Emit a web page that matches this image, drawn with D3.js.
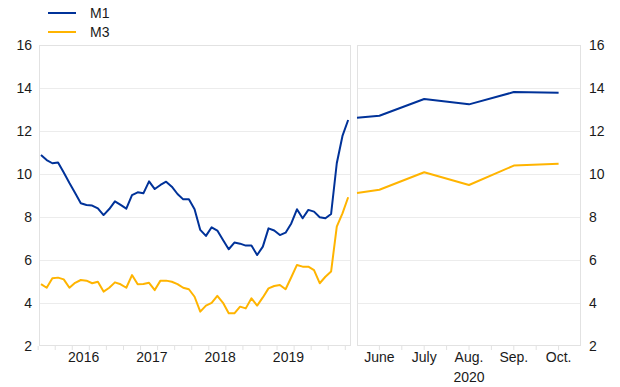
<!DOCTYPE html>
<html>
<head>
<meta charset="utf-8">
<script src="https://cdn.jsdelivr.net/npm/d3@7"></script>
<style>
    body { margin: 0; background: #fff; }
    text { font-family: "Liberation Sans", Arial, sans-serif; fill: #1a1a1a; }
</style>
</head>
<body>
<svg id="chart" width="620" height="387"></svg>
<script>

// monthly, Nov 2015 .. May 2020 (index 0 = Nov 2015)
const m1Monthly = [10.88, 10.65, 10.5, 10.53, 10.07, 9.58, 9.12, 8.64, 8.56, 8.53,
    8.4, 8.09, 8.37, 8.73, 8.56, 8.39, 9.02, 9.15, 9.1, 9.66,
    9.3, 9.49, 9.64, 9.41, 9.07, 8.82, 8.82, 8.36, 7.4, 7.12,
    7.52, 7.37, 6.93, 6.5, 6.81, 6.76, 6.67, 6.67, 6.23, 6.62,
    7.47, 7.37, 7.16, 7.27, 7.7, 8.36, 7.94, 8.33, 8.25, 7.99,
    7.94, 8.14, 10.5, 11.77, 12.51];
const m3Monthly = [4.88, 4.71, 5.15, 5.18, 5.1, 4.71, 4.94, 5.07, 5.04, 4.92,
    4.99, 4.53, 4.71, 4.96, 4.87, 4.71, 5.3, 4.87, 4.88, 4.94,
    4.6, 5.04, 5.04, 4.99, 4.88, 4.71, 4.64, 4.29, 3.6, 3.88,
    4.01, 4.33, 4.01, 3.52, 3.52, 3.83, 3.75, 4.22, 3.88, 4.26,
    4.68, 4.79, 4.84, 4.64, 5.2, 5.77, 5.69, 5.69, 5.53, 4.92,
    5.22, 5.46, 7.55, 8.17, 8.92];

const years = ['2016', '2017', '2018', '2019'];
const yearStart = [2, 14, 26, 38];   // month index of each January

// 2020 panel, position in months of 2020
const recentPos = [5.5, 6, 7, 8, 9, 10];
const m1Recent = [12.62, 12.71, 13.49, 13.24, 13.81, 13.78];
const m3Recent = [9.12, 9.27, 10.08, 9.49, 10.39, 10.48];
const monthLabels = ['June', 'July', 'Aug.', 'Sep.', 'Oct.'];
const monthPos = [6, 7, 8, 9, 10];

const yTicks = [2, 4, 6, 8, 10, 12, 14, 16];
const seriesNames = ['M1', 'M3'];
const colors = {'M1': '#003299', 'M3': '#ffb400'};

const svg = d3.select('#chart');
const plotTop = 45, plotBottom = 346;
const leftPanel = {'x0': 39, 'x1': 351};
const rightPanel = {'x0': 357, 'x1': 581};
const fontSize = 14;

const y = d3.scaleLinear().domain([2, 16]).range([plotBottom, plotTop]);
const xLeft = d3.scaleLinear().domain([-0.35, 54.5]).range([leftPanel.x0, leftPanel.x1]);
const xRight = d3.scaleLinear().domain([5.5, 10.5]).range([rightPanel.x0, rightPanel.x1]);

function drawPanel(panel, x, m1, m3, xs) {
    const g = svg.append('g');

    g.selectAll('.grid')
        .data(yTicks.slice(1, -1))
        .enter().append('line')
        .attr('x1', panel.x0).attr('x2', panel.x1)
        .attr('y1', d => y(d) + 0.5).attr('y2', d => y(d) + 0.5)
        .attr('stroke', '#ececec')
        .attr('stroke-width', 1);

    g.append('rect')
        .attr('x', panel.x0 + 0.5).attr('y', plotTop + 0.5)
        .attr('width', panel.x1 - panel.x0 - 1)
        .attr('height', plotBottom - plotTop - 1)
        .attr('fill', 'none')
        .attr('stroke', '#e2e2e2');

    const line = d3.line()
        .x((d, i) => x(xs[i]))
        .y(d => y(d));

    [m3, m1].forEach(function(values, k) {
        g.append('path')
            .datum(values)
            .attr('d', line)
            .attr('fill', 'none')
            .attr('stroke', colors[seriesNames[1 - k]])
            .attr('stroke-width', 2)
            .attr('stroke-linejoin', 'round');
    });
    return g;
}

const leftIdx = d3.range(m1Monthly.length);
const gl = drawPanel(leftPanel, xLeft, m1Monthly, m3Monthly, leftIdx);
const gr = drawPanel(rightPanel, xRight, m1Recent, m3Recent, recentPos);

// bottom ticks
const leftTicks = d3.range(-0.5, 54.6, 3);
gl.selectAll('.tick')
    .data(leftTicks)
    .enter().append('line')
    .attr('x1', d => xLeft(d)).attr('x2', d => xLeft(d))
    .attr('y1', plotBottom).attr('y2', plotBottom + 4)
    .attr('stroke', '#e2e2e2');

gr.selectAll('.tick')
    .data(d3.range(6, 10.01, 0.5))
    .enter().append('line')
    .attr('x1', d => xRight(d)).attr('x2', d => xRight(d))
    .attr('y1', plotBottom).attr('y2', plotBottom + 4)
    .attr('stroke', '#e2e2e2');

// x labels
gl.selectAll('.year')
    .data(years)
    .enter().append('text')
    .attr('x', (d, i) => xLeft(yearStart[i] + 5.5))
    .attr('y', 362)
    .attr('text-anchor', 'middle')
    .style('font-size', fontSize + 'px')
    .text(d => d);

gr.selectAll('.month')
    .data(monthLabels)
    .enter().append('text')
    .attr('x', (d, i) => xRight(monthPos[i]))
    .attr('y', 362)
    .attr('text-anchor', 'middle')
    .style('font-size', fontSize + 'px')
    .text(d => d);

gr.append('text')
    .attr('x', xRight(8))
    .attr('y', 382)
    .attr('text-anchor', 'middle')
    .style('font-size', fontSize + 'px')
    .text('2020');

// y labels, both sides
svg.append('g').selectAll('text')
    .data(yTicks)
    .enter().append('text')
    .attr('x', 32)
    .attr('y', d => y(d) + 5)
    .attr('text-anchor', 'end')
    .style('font-size', fontSize + 'px')
    .text(d => d);

svg.append('g').selectAll('text')
    .data(yTicks)
    .enter().append('text')
    .attr('x', 589)
    .attr('y', d => y(d) + 5)
    .attr('text-anchor', 'start')
    .style('font-size', fontSize + 'px')
    .text(d => d);

// legend
const legend = svg.append('g').attr('transform', 'translate(48,13)');
seriesNames.forEach(function(name, i) {
    legend.append('line')
        .attr('x1', 0).attr('x2', 28)
        .attr('y1', i * 19).attr('y2', i * 19)
        .attr('stroke', colors[name])
        .attr('stroke-width', 2);
    legend.append('text')
        .attr('x', 42)
        .attr('y', i * 19 + 5)
        .style('font-size', fontSize + 'px')
        .text(name);
});

</script>
</body>
</html>
